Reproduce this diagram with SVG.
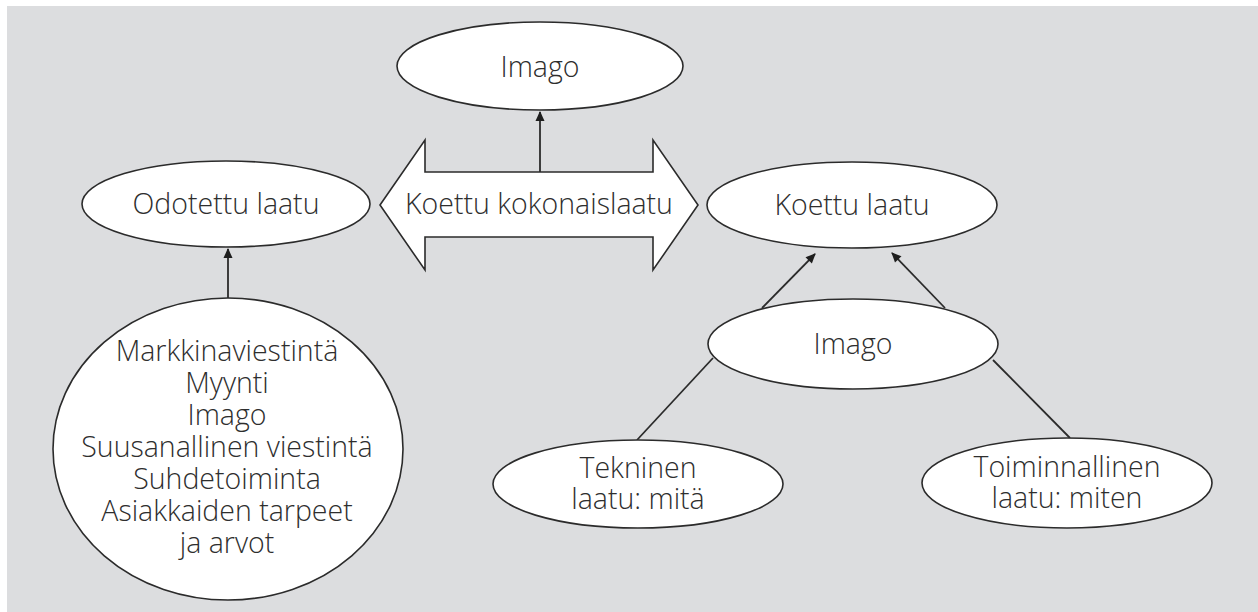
<svg xmlns="http://www.w3.org/2000/svg" width="1258" height="612" viewBox="0 0 1258 612">
<style>
.n{fill:#fff;stroke:#2b2b2b;stroke-width:1.6}
.t{font-family:"Open Sans","Liberation Sans",sans-serif;font-size:28.5px;font-weight:300;fill:#2e2e2e;text-anchor:middle}
.c{stroke:#2b2b2b;stroke-width:1.8;fill:none}
</style>
<defs>
<marker id="ah" viewBox="0 0 10 10" refX="9" refY="5" markerWidth="11" markerHeight="10" markerUnits="userSpaceOnUse" orient="auto">
<path d="M0,0.5 L10,5 L0,9.5 Z" fill="#1e1e1e"/>
</marker>
</defs>
<rect x="0" y="0" width="1258" height="612" fill="#ffffff"/>
<rect x="7" y="6" width="1251" height="606" fill="#dcdddf"/>
<g id="connectors">
<line class="c" x1="540" y1="172" x2="540" y2="112" marker-end="url(#ah)"/>
<line class="c" x1="228" y1="298" x2="228" y2="249" marker-end="url(#ah)"/>
<line class="c" x1="762" y1="308" x2="815" y2="254" marker-end="url(#ah)"/>
<line class="c" x1="945" y1="308" x2="892" y2="253" marker-end="url(#ah)"/>
<line class="c" x1="713" y1="358" x2="637" y2="440"/>
<line class="c" x1="993" y1="360" x2="1070" y2="438"/>
</g>
<g id="imago-top">
<ellipse class="n" cx="540" cy="66" rx="143" ry="44"/>
<text class="t" x="540" y="77">Imago</text>
</g>
<g id="koettu-kokonaislaatu">
<polygon class="n" points="380,205 425,140 425,172 653,172 653,140 698,205 653,270 653,237 425,237 425,270"/>
<text class="t" x="539" y="214">Koettu kokonaislaatu</text>
</g>
<g id="odotettu-laatu">
<ellipse class="n" cx="226" cy="204" rx="144" ry="43"/>
<text class="t" x="226" y="214">Odotettu laatu</text>
</g>
<g id="koettu-laatu">
<ellipse class="n" cx="852" cy="205" rx="145" ry="43"/>
<text class="t" x="852" y="215">Koettu laatu</text>
</g>
<g id="imago-mid">
<ellipse class="n" cx="853" cy="344" rx="145" ry="45"/>
<text class="t" x="853" y="354">Imago</text>
</g>
<g id="tekninen">
<ellipse class="n" cx="638" cy="484" rx="145" ry="44"/>
<text class="t" x="638" y="478">Tekninen</text>
<text class="t" x="638" y="509">laatu: mitä</text>
</g>
<g id="toiminnallinen">
<ellipse class="n" cx="1067" cy="483" rx="145" ry="45"/>
<text class="t" x="1067" y="477">Toiminnallinen</text>
<text class="t" x="1067" y="508">laatu: miten</text>
</g>
<g id="tekijat">
<ellipse class="n" cx="228" cy="449" rx="175" ry="151"/>
<text class="t" x="227" y="361">Markkinaviestintä</text>
<text class="t" x="227" y="393">Myynti</text>
<text class="t" x="227" y="425">Imago</text>
<text class="t" x="227" y="457">Suusanallinen viestintä</text>
<text class="t" x="227" y="489">Suhdetoiminta</text>
<text class="t" x="227" y="521">Asiakkaiden tarpeet</text>
<text class="t" x="227" y="553">ja arvot</text>
</g>
</svg>
